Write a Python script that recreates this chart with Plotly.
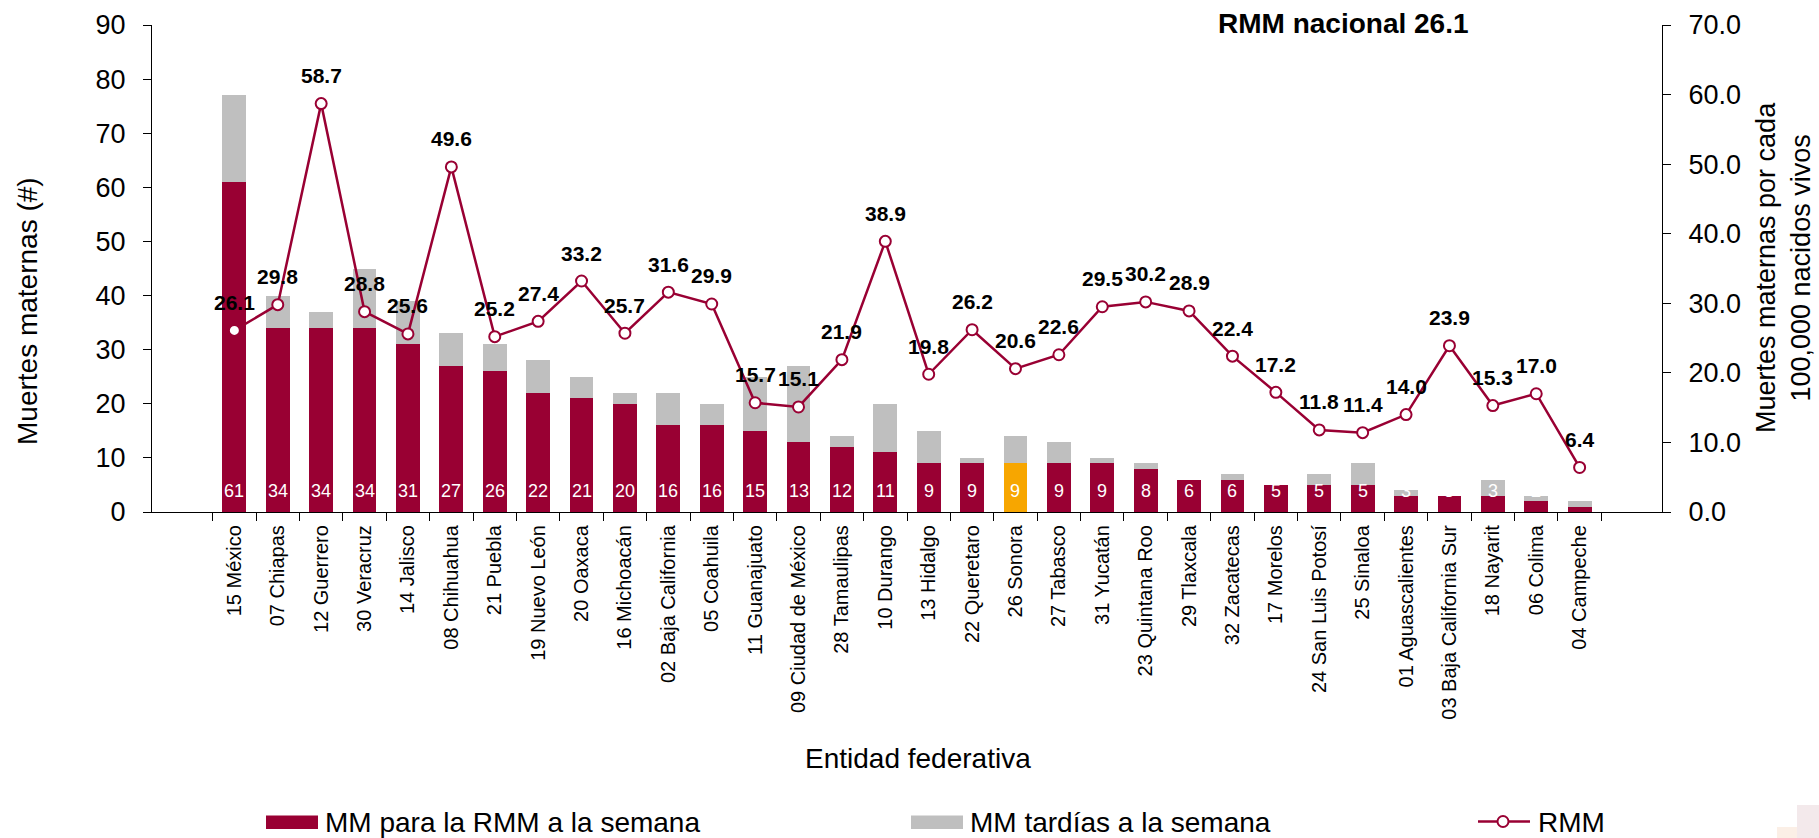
import plotly.graph_objects as go

# ---------------- data ----------------
entidades = ["15 México", "07 Chiapas", "12 Guerrero", "30 Veracruz", "14 Jalisco",
             "08 Chihuahua", "21 Puebla", "19 Nuevo León", "20 Oaxaca", "16 Michoacán",
             "02 Baja California", "05 Coahuila", "11 Guanajuato", "09 Ciudad de México",
             "28 Tamaulipas", "10 Durango", "13 Hidalgo", "22 Queretaro", "26 Sonora",
             "27 Tabasco", "31 Yucatán", "23 Quintana Roo", "29 Tlaxcala", "32 Zacatecas",
             "17 Morelos", "24 San Luis Potosí", "25 Sinaloa", "01 Aguascalientes",
             "03 Baja California Sur", "18 Nayarit", "06 Colima", "04 Campeche"]
mm_rmm = [61, 34, 34, 34, 31, 27, 26, 22, 21, 20, 16, 16, 15, 13, 12, 11, 9, 9, 9, 9,
          9, 8, 6, 6, 5, 5, 5, 3, 3, 3, 2, 1]
mm_tardias = [16, 6, 3, 11, 8, 6, 5, 6, 4, 2, 6, 4, 10, 14, 2, 9, 6, 1, 5, 4,
              1, 1, 0, 1, 0, 2, 4, 1, 0, 3, 1, 1]
rmm = [26.1, 29.8, 58.7, 28.8, 25.6, 49.6, 25.2, 27.4, 33.2, 25.7, 31.6, 29.9, 15.7, 15.1,
       21.9, 38.9, 19.8, 26.2, 20.6, 22.6, 29.5, 30.2, 28.9, 22.4, 17.2, 11.8, 11.4, 14.0,
       23.9, 15.3, 17.0, 6.4]
rmm_nacional = 26.1
entidad_destacada = "26 Sonora"

# ---------------- style ----------------
RED = "#990033"
GRAY = "#BFBFBF"
ORANGE = "#F7A600"
FONT = "Arial, 'Liberation Sans', sans-serif"

W, H = 1819, 838
L, R, T, B = 152, 157, 25, 326
PW, PH = W - L - R, H - T - B


def px(xp):
    return (xp - L) / PW


def py(yp):
    return (H - B - yp) / PH


bar_colors = [ORANGE if e == entidad_destacada else RED for e in entidades]

fig = go.Figure()
fig.add_trace(go.Bar(x=entidades, y=mm_rmm, name="MM para la RMM a la semana",
                     marker=dict(color=bar_colors, line=dict(width=0)), showlegend=False))
fig.add_trace(go.Bar(x=entidades, y=mm_tardias, name="MM tardías a la semana",
                     marker=dict(color=GRAY, line=dict(width=0)), showlegend=False))
fig.add_trace(go.Scatter(x=entidades, y=rmm, yaxis="y2", name="RMM", mode="lines+markers",
                         line=dict(color=RED, width=2.5),
                         marker=dict(symbol="circle", size=11, color="white",
                                     line=dict(color=RED, width=2)),
                         showlegend=False))

annotations = []
# bar value labels (inside base, white)
for e, v in zip(entidades, mm_rmm):
    annotations.append(dict(x=e, y=0, xref="x", yref="y", text=str(v), showarrow=False,
                            yshift=21, font=dict(family=FONT, size=18, color="white")))
# RMM labels
for e, v in zip(entidades, rmm):
    annotations.append(dict(x=e, y=v, xref="x", yref="y2", text=f"<b>{v:.1f}</b>",
                            showarrow=False, yshift=28,
                            font=dict(family=FONT, size=21, color="black")))
# title
annotations.append(dict(x=px(1343), y=py(23), xref="paper", yref="paper",
                        text=f"<b>RMM nacional {rmm_nacional}</b>", showarrow=False,
                        xanchor="center", yanchor="middle",
                        font=dict(family=FONT, size=28, color="black")))
# x title
annotations.append(dict(x=px(918), y=py(758), xref="paper", yref="paper",
                        text="Entidad federativa", showarrow=False,
                        xanchor="center", yanchor="middle",
                        font=dict(family=FONT, size=28, color="black")))
# left y title
annotations.append(dict(x=px(27), y=py(447), xref="paper", yref="paper",
                        text="Muertes maternas (#)", showarrow=False, textangle=-90,
                        xanchor="center", yanchor="bottom",
                        font=dict(family=FONT, size=28, color="black")))
# right y title
annotations.append(dict(x=px(1783), y=py(268), xref="paper", yref="paper",
                        text="Muertes maternas por cada<br>100,000 nacidos vivos",
                        showarrow=False, textangle=-90, align="center",
                        xanchor="center", yanchor="middle",
                        font=dict(family=FONT, size=27, color="black")))

# manual legend
leg_y = 822
leg_items = [(266, 318, RED, "MM para la RMM a la semana"),
             (911, 963, GRAY, "MM tardías a la semana")]
shapes = []
for x0, x1, col, txt in leg_items:
    shapes.append(dict(type="rect", xref="paper", yref="paper",
                       x0=px(x0), x1=px(x1), y0=py(829), y1=py(815.5),
                       fillcolor=col, line=dict(width=0)))
    annotations.append(dict(x=px(x1 + 5), y=py(leg_y), xref="paper", yref="paper",
                            text=txt, showarrow=False, xanchor="left", yanchor="middle",
                            font=dict(family=FONT, size=28, color="black")))
shapes.append(dict(type="line", xref="paper", yref="paper", x0=px(1478), x1=px(1530),
                   y0=py(821.5), y1=py(821.5), line=dict(color=RED, width=2.5)))
shapes.append(dict(type="circle", xref="paper", yref="paper",
                   x0=px(1497.5), x1=px(1508.5), y0=py(827), y1=py(816),
                   fillcolor="white", line=dict(color=RED, width=2)))
annotations.append(dict(x=px(1536), y=py(leg_y), xref="paper", yref="paper",
                        text="RMM", showarrow=False, xanchor="left", yanchor="middle",
                        font=dict(family=FONT, size=28, color="black")))
# faint background decoration (bottom-right corner)
shapes.append(dict(type="rect", xref="paper", yref="paper", x0=px(1797), x1=px(1819),
                   y0=py(838), y1=py(805), fillcolor="#F3E9EB", line=dict(width=0), layer="below"))
shapes.append(dict(type="rect", xref="paper", yref="paper", x0=px(1777), x1=px(1797),
                   y0=py(838), y1=py(827), fillcolor="#FBEFE6", line=dict(width=0), layer="below"))

axis_common = dict(showgrid=False, zeroline=False, showline=True, linecolor="black",
                   linewidth=1.3, ticks="outside", ticklen=8, tickcolor="black",
                   tickwidth=1.3)

fig.update_layout(
    width=W, height=H,
    margin=dict(l=L, r=R, t=T, b=B, autoexpand=False),
    paper_bgcolor="white", plot_bgcolor="white",
    barmode="stack", bargap=0.45,
    font=dict(family=FONT, color="black"),
    xaxis=dict(type="category", tickangle=-90, tickson="boundaries",
               tickfont=dict(family=FONT, size=20, color="black"),
               ticklabelstandoff=4, **axis_common),
    yaxis=dict(range=[0, 90], dtick=10, tickfont=dict(family=FONT, size=27, color="black"),
               ticklabelstandoff=12, **axis_common),
    yaxis2=dict(range=[0, 70], dtick=10, tickformat=".1f", overlaying="y", side="right",
                tickfont=dict(family=FONT, size=27, color="black"),
                ticklabelstandoff=12, **axis_common),
    annotations=annotations,
    shapes=shapes,
    showlegend=False,
)

fig.write_html("out.html")
